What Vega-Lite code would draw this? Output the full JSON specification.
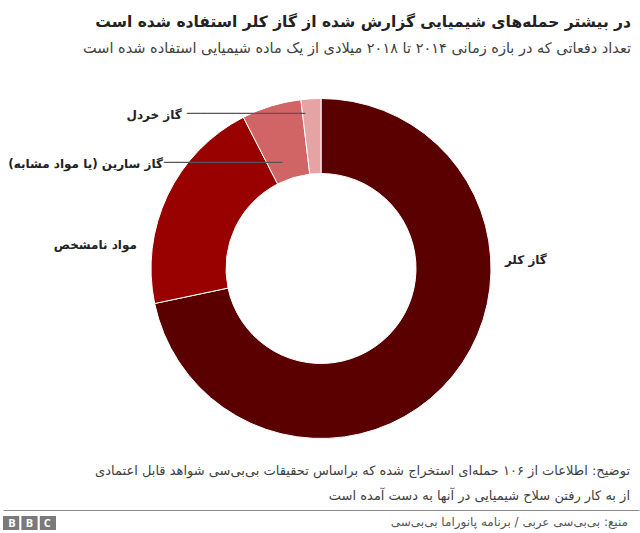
{
  "$schema": "https://vega.github.io/schema/vega-lite/v6.json",
  "background": "white",
  "padding": {"left": 3, "right": 1, "top": 14, "bottom": 0},
  "datasets": {
    "weapons": [
      {"type": "گاز کلر", "count": 76, "order": 1},
      {"type": "مواد نامشخص", "count": 22, "order": 2},
      {"type": "گاز سارین (یا مواد مشابه)\u200f", "count": 6, "order": 3},
      {"type": "گاز خردل", "count": 2, "order": 4}
    ],
    "logo": [
      {"key": "b1", "letter": "B"},
      {"key": "b2", "letter": "B"},
      {"key": "c", "letter": "C"}
    ],
    "source": [
      {"text": "منبع: بی‌بی‌سی عربی / برنامه پانوراما بی‌بی‌سی"}
    ]
  },
  "title": {
    "text": "در بیشتر حمله‌های شیمیایی گزارش شده از گاز کلر استفاده شده است",
    "subtitle": "تعداد دفعاتی که در بازه زمانی ۲۰۱۴ تا ۲۰۱۸ میلادی از یک ماده شیمیایی استفاده شده است",
    "anchor": "end",
    "font": "DejaVu Sans",
    "subtitleFont": "DejaVu Sans",
    "fontSize": 15.5,
    "fontWeight": "bold",
    "color": "#222222",
    "subtitleFontSize": 14.5,
    "subtitleColor": "#404040",
    "subtitlePadding": 12,
    "offset": 26.5,
    "dx": -8
  },
  "spacing": 7,
  "vconcat": [
    {
      "width": 636,
      "height": 373,
      "data": {"name": "weapons"},
      "title": {
        "text": [
          "توضیح: اطلاعات از ۱۰۶ حمله‌ای استخراج شده که براساس تحقیقات بی‌بی‌سی شواهد قابل اعتمادی",
          "از به کار رفتن سلاح شیمیایی در آنها به دست آمده است"
        ],
        "orient": "bottom",
        "anchor": "end",
        "font": "DejaVu Sans",
        "fontSize": 13,
        "fontWeight": "normal",
        "color": "#404040",
        "lineHeight": 25,
        "offset": 10,
        "dx": -9
      },
      "encoding": {
        "theta": {"field": "count", "type": "quantitative", "stack": true},
        "order": {"field": "order", "type": "quantitative"}
      },
      "layer": [
        {
          "mark": {"type": "arc", "innerRadius": 95, "outerRadius": 170, "stroke": "white", "strokeWidth": 1},
          "encoding": {
            "color": {
              "field": "type",
              "type": "nominal",
              "scale": {
                "domain": ["گاز کلر", "مواد نامشخص", "گاز سارین (یا مواد مشابه)\u200f", "گاز خردل"],
                "range": ["#5a0000", "#990000", "#d16464", "#e6a3a3"]
              },
              "legend": null
            }
          }
        },
        {
          "mark": {
            "type": "text",
            "radius": {"expr": "datum.order == 3 ? 111.4 : datum.order == 4 ? 155.8 : 184"},
            "align": {"expr": "datum.order == 1 ? 'left' : 'right'"},
            "baseline": "middle",
            "dx": {"expr": "datum.order == 1 ? 41 : datum.order == 2 ? -18 : datum.order == 3 ? -125.5 : -130"},
            "dy": {"expr": "datum.order == 1 ? -124 : datum.order == 2 ? 56 : 2"},
            "font": "DejaVu Sans",
            "fontSize": 12,
            "fontWeight": "bold",
            "color": "#222222"
          },
          "encoding": {
            "detail": {"field": "type"},
            "text": {"field": "type"}
          }
        },
        {
          "mark": {
            "type": "text",
            "radius": {"expr": "datum.order == 3 ? 111.4 : datum.order == 4 ? 155.8 : 120"},
            "align": "right",
            "baseline": "middle",
            "dx": {"expr": "datum.order == 3 ? -6.5 : -6.8"},
            "dy": 1,
            "font": "DejaVu Sans",
            "fontSize": 14,
            "color": "#555555"
          },
          "encoding": {
            "detail": {"field": "type"},
            "text": {"condition": {"test": "datum.order >= 3", "value": "\u2500\u2500\u2500\u2500\u2500\u2500\u2500\u2500\u2500\u2500\u2500\u2500\u2500\u2500"}, "value": ""}
          }
        }
      ]
    },
    {
      "width": 636,
      "height": 14,
      "resolve": {"scale": {"x": "independent"}, "axis": {"x": "independent"}},
      "layer": [
        {
          "data": {"name": "logo"},
          "mark": {"type": "rect", "color": "#7a7a7a"},
          "encoding": {
            "x": {"field": "key", "type": "nominal", "sort": ["b1", "b2", "c"], "scale": {"range": [0, 53], "paddingInner": 0.12, "paddingOuter": 0}, "axis": null}
          }
        },
        {
          "data": {"name": "logo"},
          "mark": {"type": "text", "color": "white", "font": "Open Sans", "fontWeight": "bold", "fontSize": 11, "baseline": "middle", "dy": 1},
          "encoding": {
            "x": {"field": "key", "type": "nominal", "sort": ["b1", "b2", "c"], "scale": {"range": [0, 53], "paddingInner": 0.12, "paddingOuter": 0}, "axis": null, "bandPosition": 0.5},
            "text": {"field": "letter"}
          }
        },
        {
          "data": {"name": "source"},
          "mark": {"type": "text", "align": "right", "baseline": "middle", "dx": -11, "dy": -1, "font": "DejaVu Sans", "fontSize": 12, "color": "#555555"},
          "encoding": {
            "x": {
              "datum": 1,
              "type": "quantitative",
              "scale": {"domain": [0, 1], "nice": false, "zero": false},
              "axis": {"orient": "top", "offset": 6, "domain": true, "domainColor": "#8a8a8a", "domainWidth": 1, "ticks": false, "labels": false, "grid": false, "title": null}
            },
            "text": {"field": "text"}
          }
        }
      ]
    }
  ],
  "config": {
    "view": {"stroke": null},
    "font": "DejaVu Sans"
  }
}
